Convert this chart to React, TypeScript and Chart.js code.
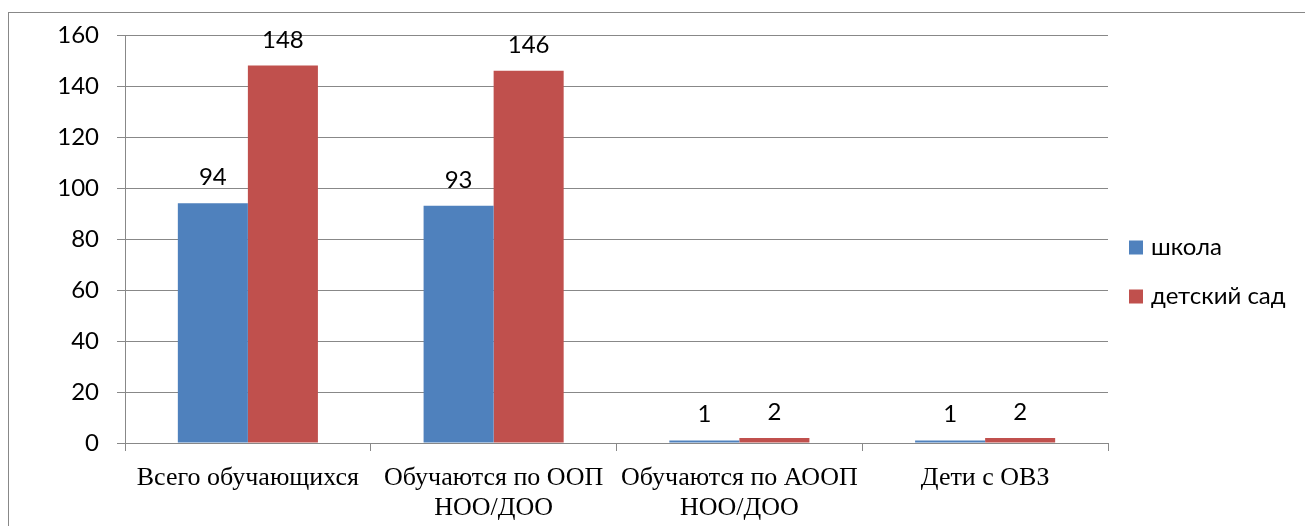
import React, { useEffect, useRef } from "react";
import { Chart, registerables } from "chart.js";

Chart.register(...registerables);

const categories: (string | string[])[] = [
  "Всего обучающихся",
  ["Обучаются по ООП", "НОО/ДОО"],
  ["Обучаются по АООП", "НОО/ДОО"],
  "Дети с ОВЗ",
];
const schoolValues = [94, 93, 1, 1];
const kindergartenValues = [148, 146, 2, 2];
const seriesNames = ["школа", "детский сад"];
const seriesColors = ["#4F81BD", "#C0504D"];
const yTicks = { min: 0, max: 160, step: 20 };

const SANS = "Lato, 'Open Sans', sans-serif";
const SERIF = "'Liberation Serif', 'Times New Roman', serif";

const framePlugin = {
  id: "frame",
  beforeDraw(chart: any) {
    const ctx = chart.ctx;
    ctx.save();
    ctx.fillStyle = "#ffffff";
    ctx.fillRect(0, 0, chart.width, chart.height);
    ctx.strokeStyle = "#888888";
    ctx.lineWidth = 1;
    ctx.strokeRect(8.5, 12.5, chart.width + 20, chart.height + 20);
    ctx.restore();
  },
};

const valueLabelPlugin = {
  id: "valueLabels",
  afterDatasetsDraw(chart: any) {
    const ctx = chart.ctx;
    ctx.save();
    ctx.font = `24px ${SANS}`;
    ctx.fillStyle = "#000000";
    ctx.textAlign = "center";
    ctx.textBaseline = "alphabetic";
    chart.data.datasets.forEach((ds: any, i: number) => {
      const meta = chart.getDatasetMeta(i);
      meta.data.forEach((el: any, j: number) => {
        ctx.fillText(String(ds.data[j]), el.x, el.y - 18);
      });
    });
    ctx.restore();
  },
};

const legendPlugin = {
  id: "sideLegend",
  afterDraw(chart: any) {
    const ctx = chart.ctx;
    const left = chart.chartArea.right + 21;
    const startY = 247.5;
    const spacing = 49;
    ctx.save();
    ctx.font = `24px ${SANS}`;
    ctx.textAlign = "left";
    ctx.textBaseline = "middle";
    chart.data.datasets.forEach((ds: any, i: number) => {
      const cy = startY + i * spacing;
      ctx.fillStyle = ds.backgroundColor;
      ctx.fillRect(left, cy - 7, 14, 14);
      ctx.fillStyle = "#000000";
      ctx.fillText(ds.label, left + 22, cy);
    });
    ctx.restore();
  },
};

export default function App() {
  const ref = useRef<HTMLCanvasElement | null>(null);

  useEffect(() => {
    if (!ref.current) return;
    const chart = new Chart(ref.current, {
      type: "bar",
      data: {
        labels: categories,
        datasets: [
          {
            label: seriesNames[0],
            data: schoolValues,
            backgroundColor: seriesColors[0],
            categoryPercentage: 0.57,
            barPercentage: 1.0,
          },
          {
            label: seriesNames[1],
            data: kindergartenValues,
            backgroundColor: seriesColors[1],
            categoryPercentage: 0.57,
            barPercentage: 1.0,
          },
        ],
      },
      options: {
        responsive: false,
        animation: false,
        devicePixelRatio: 1,
        layout: { padding: { left: 0, top: 35, right: 197, bottom: 0 } },
        plugins: {
          legend: { display: false },
          tooltip: { enabled: false },
          title: { display: false },
        },
        scales: {
          x: {
            afterFit: (s: any) => {
              s.height = 83;
            },
            grid: {
              display: true,
              drawOnChartArea: false,
              drawTicks: true,
              tickLength: 8,
              color: "#888888",
              offset: true,
            },
            border: { display: true, color: "#888888" },
            ticks: {
              color: "#000000",
              padding: 13,
              maxRotation: 0,
              autoSkip: false,
              font: { family: SERIF, size: 26, lineHeight: 1.12 },
            },
          },
          y: {
            min: yTicks.min,
            max: yTicks.max,
            afterFit: (s: any) => {
              s.width = 125;
            },
            grid: {
              color: "#888888",
              drawTicks: true,
              tickLength: 8,
            },
            border: { display: true, color: "#888888" },
            ticks: {
              stepSize: yTicks.step,
              color: "#000000",
              padding: 18,
              font: { family: SANS, size: 24 },
            },
          },
        },
      },
      plugins: [framePlugin, valueLabelPlugin, legendPlugin],
    });
    return () => chart.destroy();
  }, []);

  return (
    <canvas
      ref={ref}
      width={1305}
      height={526}
      style={{ position: "absolute", left: 0, top: 0, width: 1305, height: 526 }}
    />
  );
}
